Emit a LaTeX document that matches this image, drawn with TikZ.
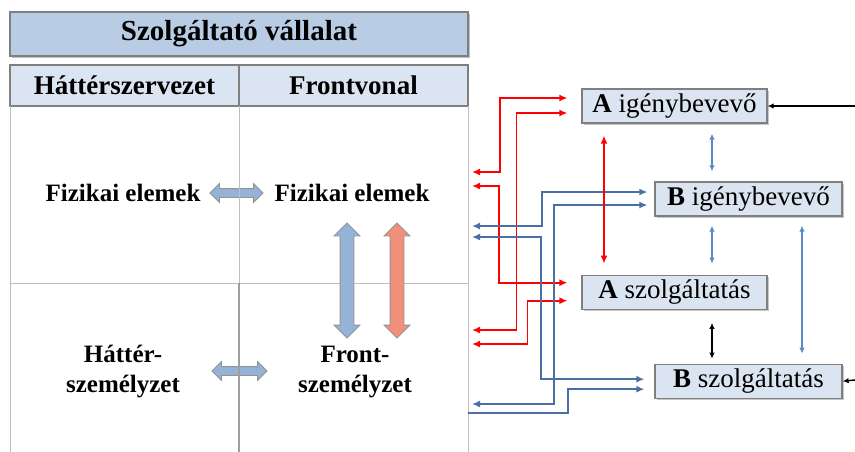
\documentclass[tikz,border=0pt]{standalone}
\usepackage{fontspec}
\setmainfont{Liberation Serif}
\usetikzlibrary{arrows.meta,positioning,calc,shadows,shapes.arrows}
\definecolor{titlefill}{HTML}{B8CCE4}
\definecolor{cellfill}{HTML}{DBE5F1}
\definecolor{framegray}{HTML}{7F7F7F}
\definecolor{gridgray}{HTML}{BFBFBF}
\definecolor{linkblue}{HTML}{4A6FA5}
\definecolor{pairblue}{HTML}{5A8AC6}
\definecolor{fatbluefill}{HTML}{95B3D7}
\definecolor{fatredfill}{HTML}{F0907A}
\tikzset{
  linktip/.tip={Latex[length=8pt,width=7pt]},
  pairtip/.tip={Latex[length=6pt,width=5.5pt]},
  titlebox/.style={
    rectangle, draw=framegray, line width=1.6pt, fill=titlefill,
    minimum width=458pt, minimum height=44pt, inner sep=0pt,
    font=\fontsize{29}{32}\selectfont\bfseries,
    drop shadow={shadow xshift=1.5pt, shadow yshift=-1.5pt, opacity=0.5}
  },
  headcell/.style={
    rectangle, draw=framegray, line width=1.2pt, fill=cellfill,
    minimum width=229pt, minimum height=41pt, inner sep=0pt,
    font=\fontsize{27}{30}\selectfont\bfseries,
    drop shadow={shadow xshift=1.2pt, shadow yshift=-1.2pt, opacity=0.4}
  },
  celltext/.style={align=center, inner sep=0pt,
    font=\fontsize{25}{30}\selectfont\bfseries},
  rolebox/.style={
    rectangle, draw=framegray, line width=1.2pt, fill=cellfill,
    minimum height=34pt, inner sep=0pt,
    font=\fontsize{27}{30}\selectfont,
    drop shadow={shadow xshift=1.5pt, shadow yshift=-1.5pt, opacity=0.45}
  },
  fatpair/.style={
    double arrow, draw=gray!85, line width=0.8pt, fill=fatbluefill,
    inner xsep=0pt, inner ysep=4pt, double arrow head extend=5pt
  },
  fatlift/.style={fatpair, rotate=90, inner ysep=6.5pt,
    double arrow head extend=6pt, minimum height=115pt},
  gridline/.style={draw=gridgray, line width=1pt},
  redlink/.style={linktip-linktip, draw=red, line width=1.8pt},
  bluelink/.style={linktip-linktip, draw=linkblue, line width=2pt},
  pairlink/.style={pairtip-pairtip, draw=pairblue, line width=1.5pt},
  blacklink/.style={pairtip-pairtip, draw=black, line width=1.5pt},
}

\begin{document}
\begin{tikzpicture}[x=1pt, y=-1pt]
  \useasboundingbox (0,0) rectangle (855,451);
  % left table
  \node (title) [titlebox] at (239,34) {Szolgáltató vállalat};
  \node (hback) [headcell] at (124.5,85.5) {Háttérszervezet};
  \node (hfront) [headcell] at (353.5,85.5) {Frontvonal};
  \draw[gridline] (10,106) -- (10,460) (468,106) -- (468,460) (10,283) -- (468,283);
  \node (physB) [celltext] at (123,193) {Fizikai elemek};
  \node (physF) [celltext] at (352,193) {Fizikai elemek};
  \node (staffB) [celltext] at (123,372) {Háttér-\\személyzet};
  \node (staffF) [celltext] at (355,372) {Front-\\személyzet};
  \node (physpair) [fatpair, minimum height=53pt] at (236.5,193) {};
  \node (staffpair) [fatpair, minimum height=55pt] at (239.5,371) {};
  \node (blift) [fatlift] at (347,280.5) {};
  \node (rlift) [fatlift, fill=fatredfill] at (397,280.5) {};
  \draw[gridline] (239,106) -- (239,283);
  \draw[gridline, draw=gray!75, line width=2pt] (239,283) -- (239,460);

  % right side roles
  \node (ai) [rolebox, minimum width=185pt] at (674.5,106) {\textbf{A} igénybevevő};
  \node (bi) [rolebox, minimum width=187pt] at (748.5,199) {\textbf{B} igénybevevő};
  \node (as) [rolebox, minimum width=185pt, below=151pt of ai] {\textbf{A} szolgáltatás};
  \node (bs) [rolebox, minimum width=187pt, below=147pt of bi] {\textbf{B} szolgáltatás};

  \coordinate (r1) at (472,172); \coordinate (r2) at (472,186);
  \coordinate (r3) at (472,330); \coordinate (r4) at (472,344);
  \coordinate (b1) at (472,226); \coordinate (b2) at (472,237);
  \coordinate (b3) at (472,404); \coordinate (b4) at (468,413);
  \coordinate (extA) at (855,106); \coordinate (extB) at (855,380);
  \coordinate (laneA) at (604,0); \coordinate (laneM) at (712,0); \coordinate (laneB) at (802,0);

  % red wires
  \draw[redlink] (r1) -- ++(28,0) |- ([xshift=-14pt,yshift=8pt]ai.west);
  \draw[redlink] (r2) -- ++(27,0) |- ([xshift=-14pt,yshift=9.5pt]as.west);
  \draw[redlink] ([xshift=-14pt,yshift=-7pt]ai.west) -- ++(-51,0) |- (r3);
  \draw[redlink] ([xshift=-14pt,yshift=-8.5pt]as.west) -- ++(-40,0) |- (r4);
  % blue wires
  \draw[bluelink] (b1) -- ++(70,0) |- ([xshift=-7pt,yshift=7pt]bi.west);
  \draw[bluelink] (b2) -- ++(69,0) |- ([xshift=-10pt,yshift=2pt]bs.west);
  \draw[bluelink] ([xshift=-7pt,yshift=-6pt]bi.west) -- ++(-93,0) |- (b3);
  \draw[bluelink, linktip-] ([xshift=-10pt,yshift=-8pt]bs.west) -- ++(-76,0) |- (b4);

  % between the roles
  \draw[redlink, line width=1.6pt, shorten <=12pt, shorten >=11pt] (ai.south -| laneA) -- (as.north -| laneA);
  \draw[pairlink, shorten <=10pt, shorten >=10pt] (ai.south -| laneM) -- (bi.north -| laneM);
  \draw[pairlink, shorten <=9pt, shorten >=11pt] (bi.south -| laneM) -- (as.north -| laneM);
  \draw[blacklink, shorten <=13pt, shorten >=5pt] (as.south -| laneM) -- (bs.north -| laneM);
  \draw[pairlink, shorten <=9pt, shorten >=10pt] (bi.south -| laneB) -- (bs.north -| laneB);
  \draw[blacklink, -pairtip] (extA) -- (ai.east);
  \draw[blacklink, -pairtip] (extB) -- (bs.east);
\end{tikzpicture}
\end{document}
